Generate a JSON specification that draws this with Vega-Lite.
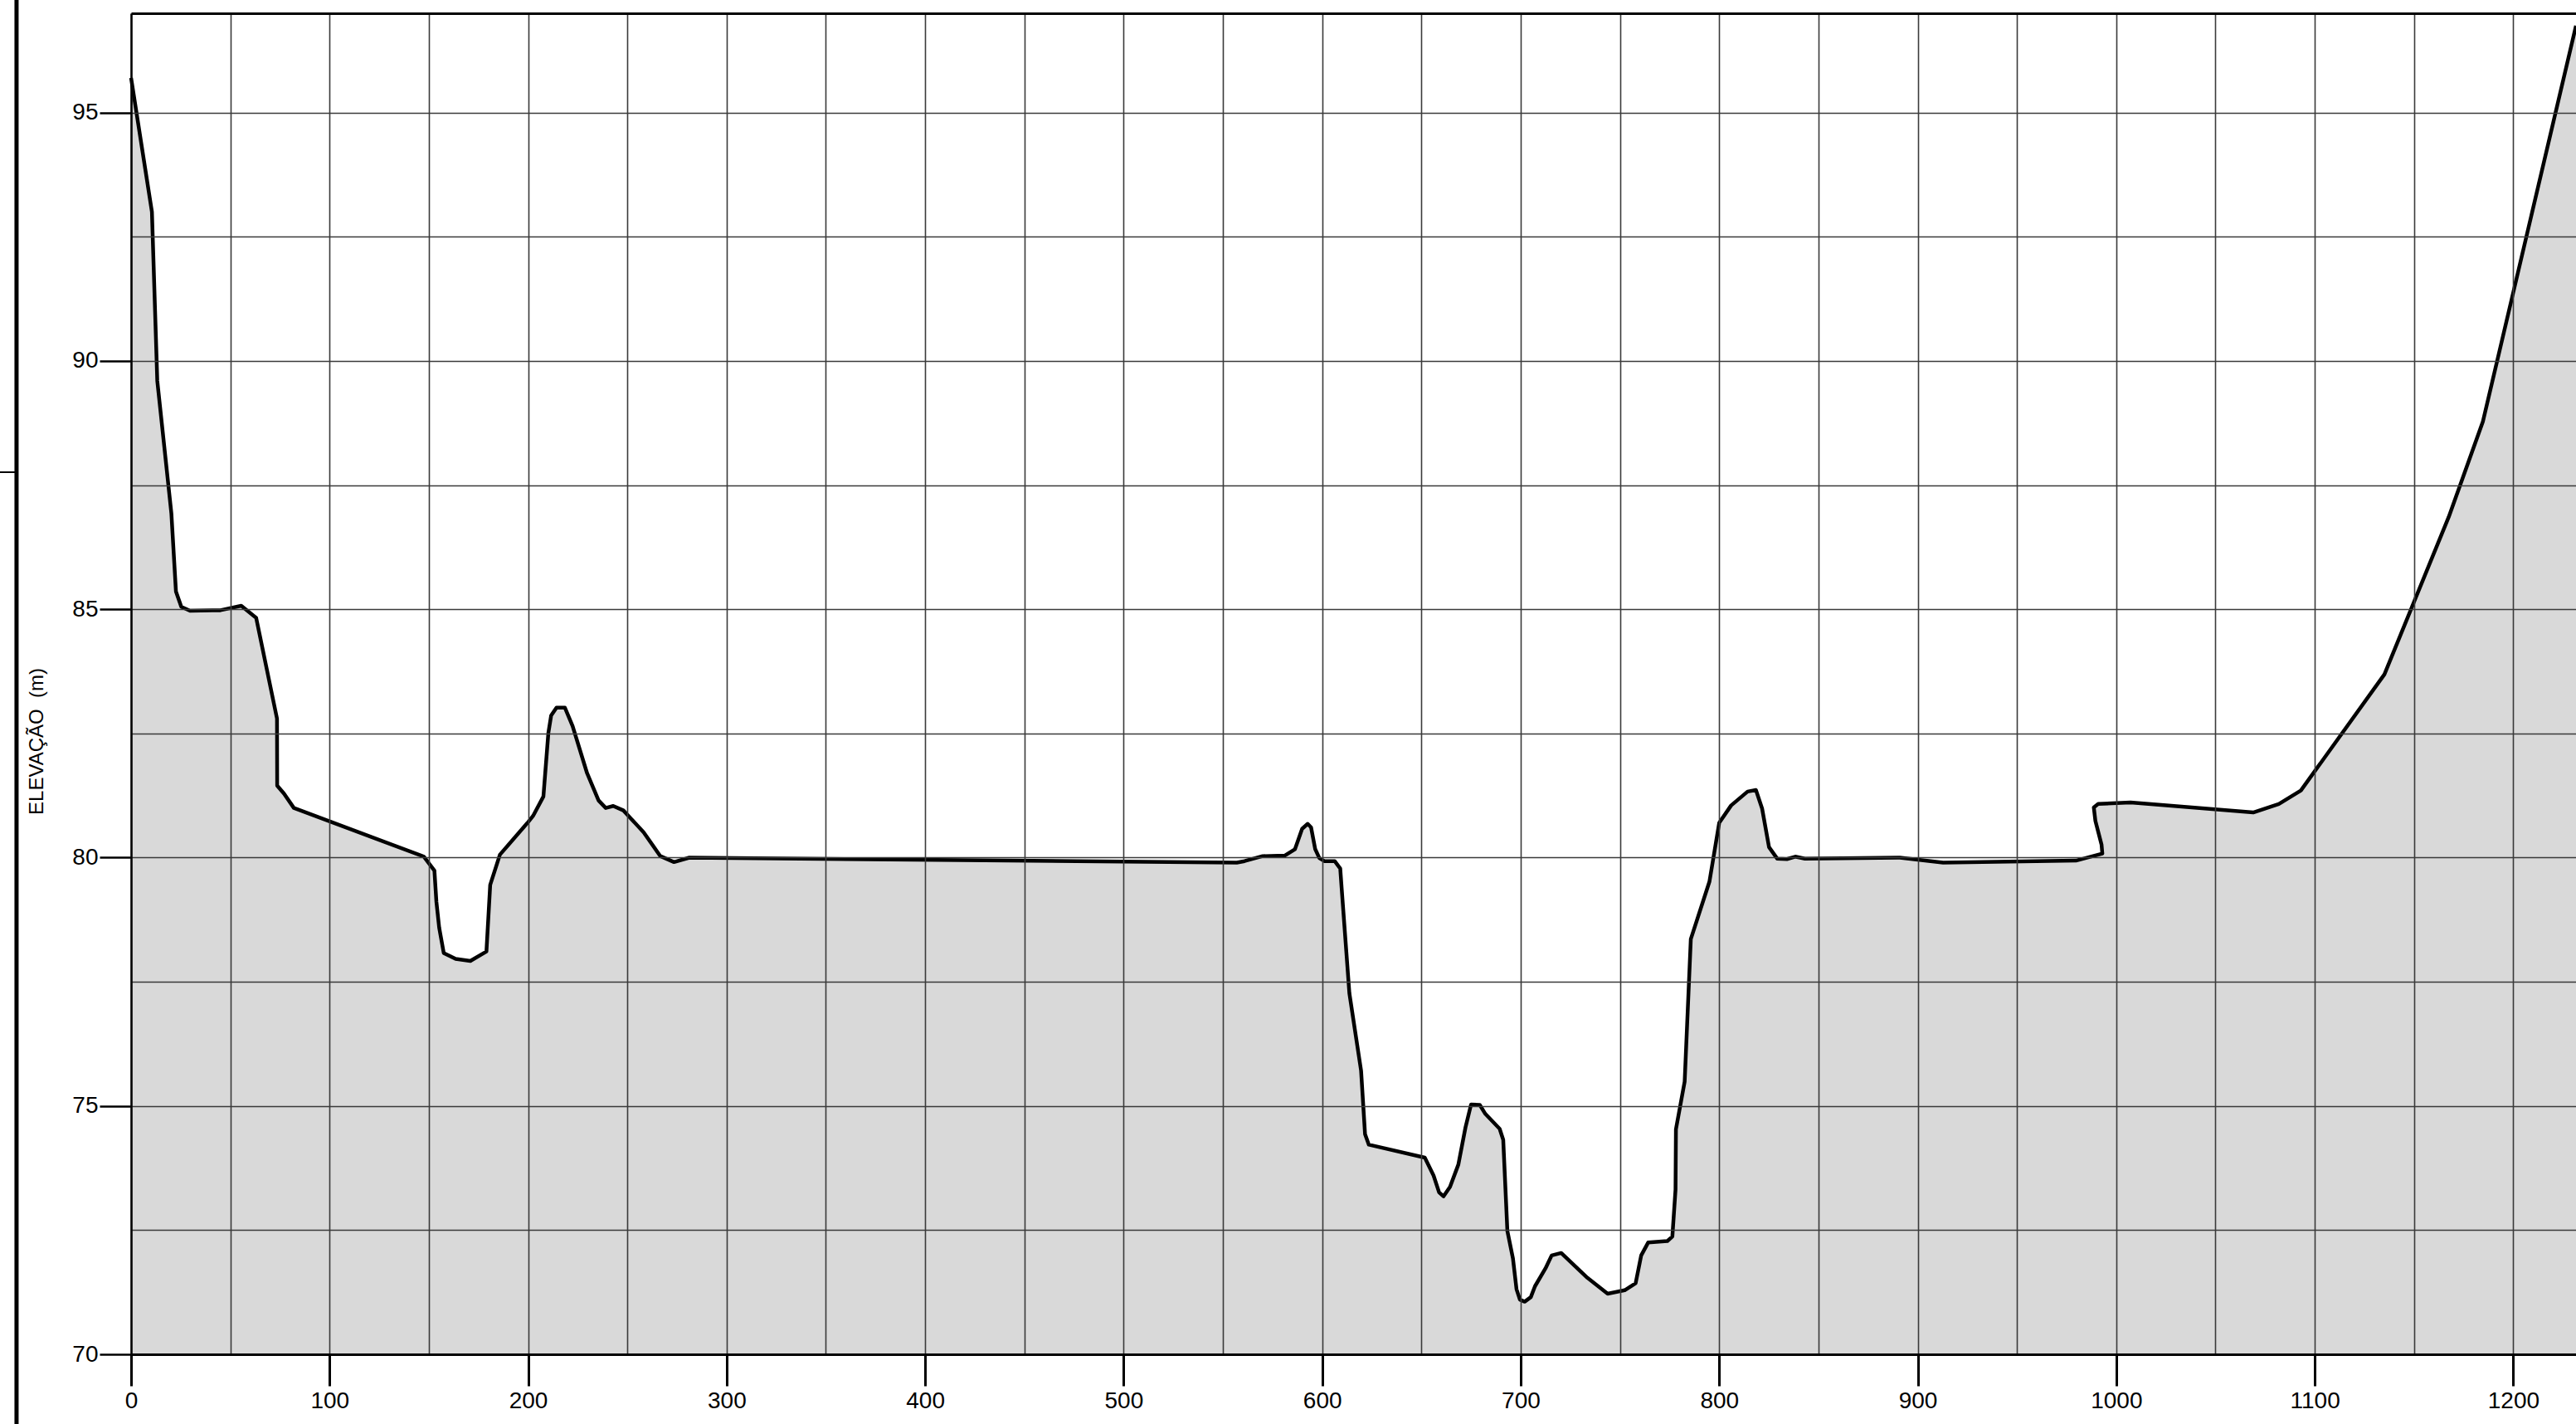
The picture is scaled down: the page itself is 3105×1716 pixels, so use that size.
{
  "$schema": "https://vega.github.io/schema/vega-lite/v6.json",
  "autosize": {"type": "none"},
  "padding": {"left": 158, "top": 16, "right": 0, "bottom": 84},
  "width": 2947,
  "height": 1616,
  "background": "white",
  "config": {"view": {"stroke": null}},
  "datasets": {
    "profile": [
      {"i": 0, "d": 0, "e": 95.7},
      {"i": 1, "d": 10.5, "e": 93.0},
      {"i": 2, "d": 13.2, "e": 89.6},
      {"i": 3, "d": 20.3, "e": 86.93},
      {"i": 4, "d": 22.6, "e": 85.36},
      {"i": 5, "d": 25.3, "e": 85.05},
      {"i": 6, "d": 29.7, "e": 84.97},
      {"i": 7, "d": 45, "e": 84.98},
      {"i": 8, "d": 55.5, "e": 85.07},
      {"i": 9, "d": 63, "e": 84.83},
      {"i": 10, "d": 73.5, "e": 82.8},
      {"i": 11, "d": 73.6, "e": 81.45},
      {"i": 12, "d": 77, "e": 81.29},
      {"i": 13, "d": 82, "e": 81.0},
      {"i": 14, "d": 147.5, "e": 80.02},
      {"i": 15, "d": 152.8, "e": 79.74},
      {"i": 16, "d": 153.8, "e": 79.11},
      {"i": 17, "d": 155.2, "e": 78.59},
      {"i": 18, "d": 157.5, "e": 78.08},
      {"i": 19, "d": 163.5, "e": 77.96},
      {"i": 20, "d": 170.9, "e": 77.92},
      {"i": 21, "d": 179, "e": 78.11},
      {"i": 22, "d": 180.9, "e": 79.45},
      {"i": 23, "d": 185.8, "e": 80.06},
      {"i": 24, "d": 199.7, "e": 80.7},
      {"i": 25, "d": 202.5, "e": 80.84},
      {"i": 26, "d": 207.7, "e": 81.23},
      {"i": 27, "d": 210.2, "e": 82.51},
      {"i": 28, "d": 211.6, "e": 82.86},
      {"i": 29, "d": 214.3, "e": 83.02},
      {"i": 30, "d": 218.5, "e": 83.02},
      {"i": 31, "d": 222.4, "e": 82.65},
      {"i": 32, "d": 229.7, "e": 81.7},
      {"i": 33, "d": 235.5, "e": 81.15},
      {"i": 34, "d": 239.1, "e": 81.0},
      {"i": 35, "d": 242.9, "e": 81.04},
      {"i": 36, "d": 248, "e": 80.95},
      {"i": 37, "d": 258.2, "e": 80.51},
      {"i": 38, "d": 266.6, "e": 80.03},
      {"i": 39, "d": 273.5, "e": 79.91},
      {"i": 40, "d": 281.2, "e": 80.0},
      {"i": 41, "d": 557, "e": 79.9},
      {"i": 42, "d": 560.9, "e": 79.93},
      {"i": 43, "d": 570, "e": 80.03},
      {"i": 44, "d": 581.1, "e": 80.04},
      {"i": 45, "d": 586.3, "e": 80.17},
      {"i": 46, "d": 589.9, "e": 80.58},
      {"i": 47, "d": 592.7, "e": 80.68},
      {"i": 48, "d": 594.4, "e": 80.61},
      {"i": 49, "d": 596.5, "e": 80.17},
      {"i": 50, "d": 598.6, "e": 79.99},
      {"i": 51, "d": 601.1, "e": 79.93},
      {"i": 52, "d": 606.3, "e": 79.93},
      {"i": 53, "d": 609.1, "e": 79.78},
      {"i": 54, "d": 609.8, "e": 79.39},
      {"i": 55, "d": 613.7, "e": 77.27},
      {"i": 56, "d": 619.6, "e": 75.71},
      {"i": 57, "d": 621.6, "e": 74.43},
      {"i": 58, "d": 623.5, "e": 74.22},
      {"i": 59, "d": 651.7, "e": 73.96},
      {"i": 60, "d": 656.1, "e": 73.6},
      {"i": 61, "d": 658.9, "e": 73.26},
      {"i": 62, "d": 661.1, "e": 73.18},
      {"i": 63, "d": 664.4, "e": 73.37},
      {"i": 64, "d": 668.6, "e": 73.82},
      {"i": 65, "d": 672.2, "e": 74.57},
      {"i": 66, "d": 675, "e": 75.03},
      {"i": 67, "d": 679.4, "e": 75.02},
      {"i": 68, "d": 682.2, "e": 74.84},
      {"i": 69, "d": 689.4, "e": 74.54},
      {"i": 70, "d": 691.2, "e": 74.32},
      {"i": 71, "d": 693.3, "e": 72.48},
      {"i": 72, "d": 696.1, "e": 71.93},
      {"i": 73, "d": 697.9, "e": 71.31},
      {"i": 74, "d": 699.6, "e": 71.1},
      {"i": 75, "d": 702, "e": 71.06},
      {"i": 76, "d": 705.1, "e": 71.15},
      {"i": 77, "d": 707.2, "e": 71.37},
      {"i": 78, "d": 712.5, "e": 71.73},
      {"i": 79, "d": 715.6, "e": 71.99},
      {"i": 80, "d": 720.4, "e": 72.04},
      {"i": 81, "d": 733.6, "e": 71.54},
      {"i": 82, "d": 743.8, "e": 71.22},
      {"i": 83, "d": 752.4, "e": 71.29},
      {"i": 84, "d": 757.9, "e": 71.43},
      {"i": 85, "d": 760.7, "e": 71.99},
      {"i": 86, "d": 764.2, "e": 72.25},
      {"i": 87, "d": 773.9, "e": 72.28},
      {"i": 88, "d": 776.4, "e": 72.37},
      {"i": 89, "d": 778, "e": 73.32},
      {"i": 90, "d": 778.2, "e": 74.53},
      {"i": 91, "d": 782.6, "e": 75.49},
      {"i": 92, "d": 785.7, "e": 78.36},
      {"i": 93, "d": 795.1, "e": 79.52},
      {"i": 94, "d": 800, "e": 80.7},
      {"i": 95, "d": 806, "e": 81.05},
      {"i": 96, "d": 814.3, "e": 81.33},
      {"i": 97, "d": 818.5, "e": 81.36},
      {"i": 98, "d": 821.6, "e": 80.99},
      {"i": 99, "d": 825.1, "e": 80.21},
      {"i": 100, "d": 829.2, "e": 79.98},
      {"i": 101, "d": 834.1, "e": 79.97},
      {"i": 102, "d": 838.3, "e": 80.02},
      {"i": 103, "d": 843.2, "e": 79.98},
      {"i": 104, "d": 891, "e": 80.0},
      {"i": 105, "d": 912.8, "e": 79.9},
      {"i": 106, "d": 979.7, "e": 79.94},
      {"i": 107, "d": 993, "e": 80.08},
      {"i": 108, "d": 992.6, "e": 80.26},
      {"i": 109, "d": 989.5, "e": 80.74},
      {"i": 110, "d": 988.7, "e": 81.01},
      {"i": 111, "d": 990.9, "e": 81.08},
      {"i": 112, "d": 1007.2, "e": 81.11},
      {"i": 113, "d": 1069, "e": 80.91},
      {"i": 114, "d": 1081.9, "e": 81.08},
      {"i": 115, "d": 1093, "e": 81.35},
      {"i": 116, "d": 1135.1, "e": 83.69},
      {"i": 117, "d": 1167.5, "e": 86.86},
      {"i": 118, "d": 1184.7, "e": 88.78},
      {"i": 119, "d": 1231.6, "e": 96.75},
      {"i": 120, "d": 1231.6, "e": 70},
      {"i": 121, "d": 0, "e": 70}
    ],
    "frame": [
      {"x": -57.7, "ya": 97.4, "yb": 68.5}
    ],
    "stub": [
      {"xa": -66.5, "xb": -57.7, "y": 87.76}
    ]
  },
  "resolve": {"axis": {"x": "independent", "y": "independent"}},
  "layer": [
    {
      "data": {"name": "profile"},
      "mark": {"type": "line", "fill": "#d9d9d9", "fillOpacity": 1, "stroke": "#d9d9d9", "strokeWidth": 0.5},
      "encoding": {
        "x": {
          "field": "d", "type": "quantitative",
          "scale": {"domain": [0, 1231.6], "nice": false, "zero": false},
          "axis": {
            "orient": "top", "title": null,
            "values": [0,50,100,150,200,250,300,350,400,450,500,550,600,650,700,750,800,850,900,950,1000,1050,1100,1150,1200],
            "labels": false, "ticks": false,
            "domainColor": "black", "domainWidth": 3,
            "grid": true, "gridColor": "#3a3a3a", "gridWidth": 1.6, "gridOpacity": 1,
            "zindex": 1
          }
        },
        "y": {
          "field": "e", "type": "quantitative",
          "scale": {"domain": [70, 97], "nice": false, "zero": false},
          "axis": {
            "orient": "right", "title": null,
            "values": [70,72.5,75,77.5,80,82.5,85,87.5,90,92.5,95],
            "labels": false, "ticks": false, "domain": false,
            "grid": true, "gridColor": "#3a3a3a", "gridWidth": 1.6, "gridOpacity": 1,
            "zindex": 1
          }
        },
        "order": {"field": "i", "type": "quantitative"}
      }
    },
    {
      "data": {"name": "profile"},
      "transform": [{"filter": "datum.i < 120"}],
      "mark": {"type": "line", "color": "black", "strokeWidth": 4.5, "strokeJoin": "round"},
      "encoding": {
        "x": {
          "field": "d", "type": "quantitative",
          "axis": {
            "orient": "bottom", "title": null,
            "values": [0,100,200,300,400,500,600,700,800,900,1000,1100,1200],
            "format": "d",
            "labelFont": "Liberation Sans", "labelFontSize": 28, "labelColor": "black",
            "labelPadding": 4, "labelFlush": false, "labelOverlap": false,
            "tickSize": 38, "tickWidth": 3, "tickColor": "black",
            "domainColor": "black", "domainWidth": 3,
            "grid": false, "zindex": 1
          }
        },
        "y": {
          "field": "e", "type": "quantitative",
          "axis": {
            "orient": "left",
            "title": "ELEVAÇÃO\u00a0 (m)",
            "titleFont": "Liberation Sans", "titleFontSize": 24, "titleFontWeight": "normal", "titleColor": "black",
            "titleX": -114, "titleY": 877, "titleAngle": -90, "titleAlign": "center", "titleBaseline": "middle",
            "values": [70,75,80,85,90,95],
            "format": "d",
            "labelFont": "Liberation Sans", "labelFontSize": 28, "labelColor": "black",
            "labelPadding": 2, "labelFlush": false, "labelOverlap": false,
            "tickSize": 38, "tickWidth": 2.5, "tickColor": "black",
            "domainColor": "black", "domainWidth": 2.5,
            "grid": false, "zindex": 1
          }
        },
        "order": {"field": "i", "type": "quantitative"}
      }
    },
    {
      "data": {"name": "frame"},
      "mark": {"type": "rule", "color": "black", "strokeWidth": 5, "clip": false},
      "encoding": {
        "x": {"field": "x", "type": "quantitative", "axis": null},
        "y": {"field": "ya", "type": "quantitative", "axis": null},
        "y2": {"field": "yb"}
      }
    },
    {
      "data": {"name": "stub"},
      "mark": {"type": "rule", "color": "black", "strokeWidth": 2, "clip": false},
      "encoding": {
        "x": {"field": "xa", "type": "quantitative", "axis": null},
        "x2": {"field": "xb"},
        "y": {"field": "y", "type": "quantitative", "axis": null}
      }
    }
  ]
}
